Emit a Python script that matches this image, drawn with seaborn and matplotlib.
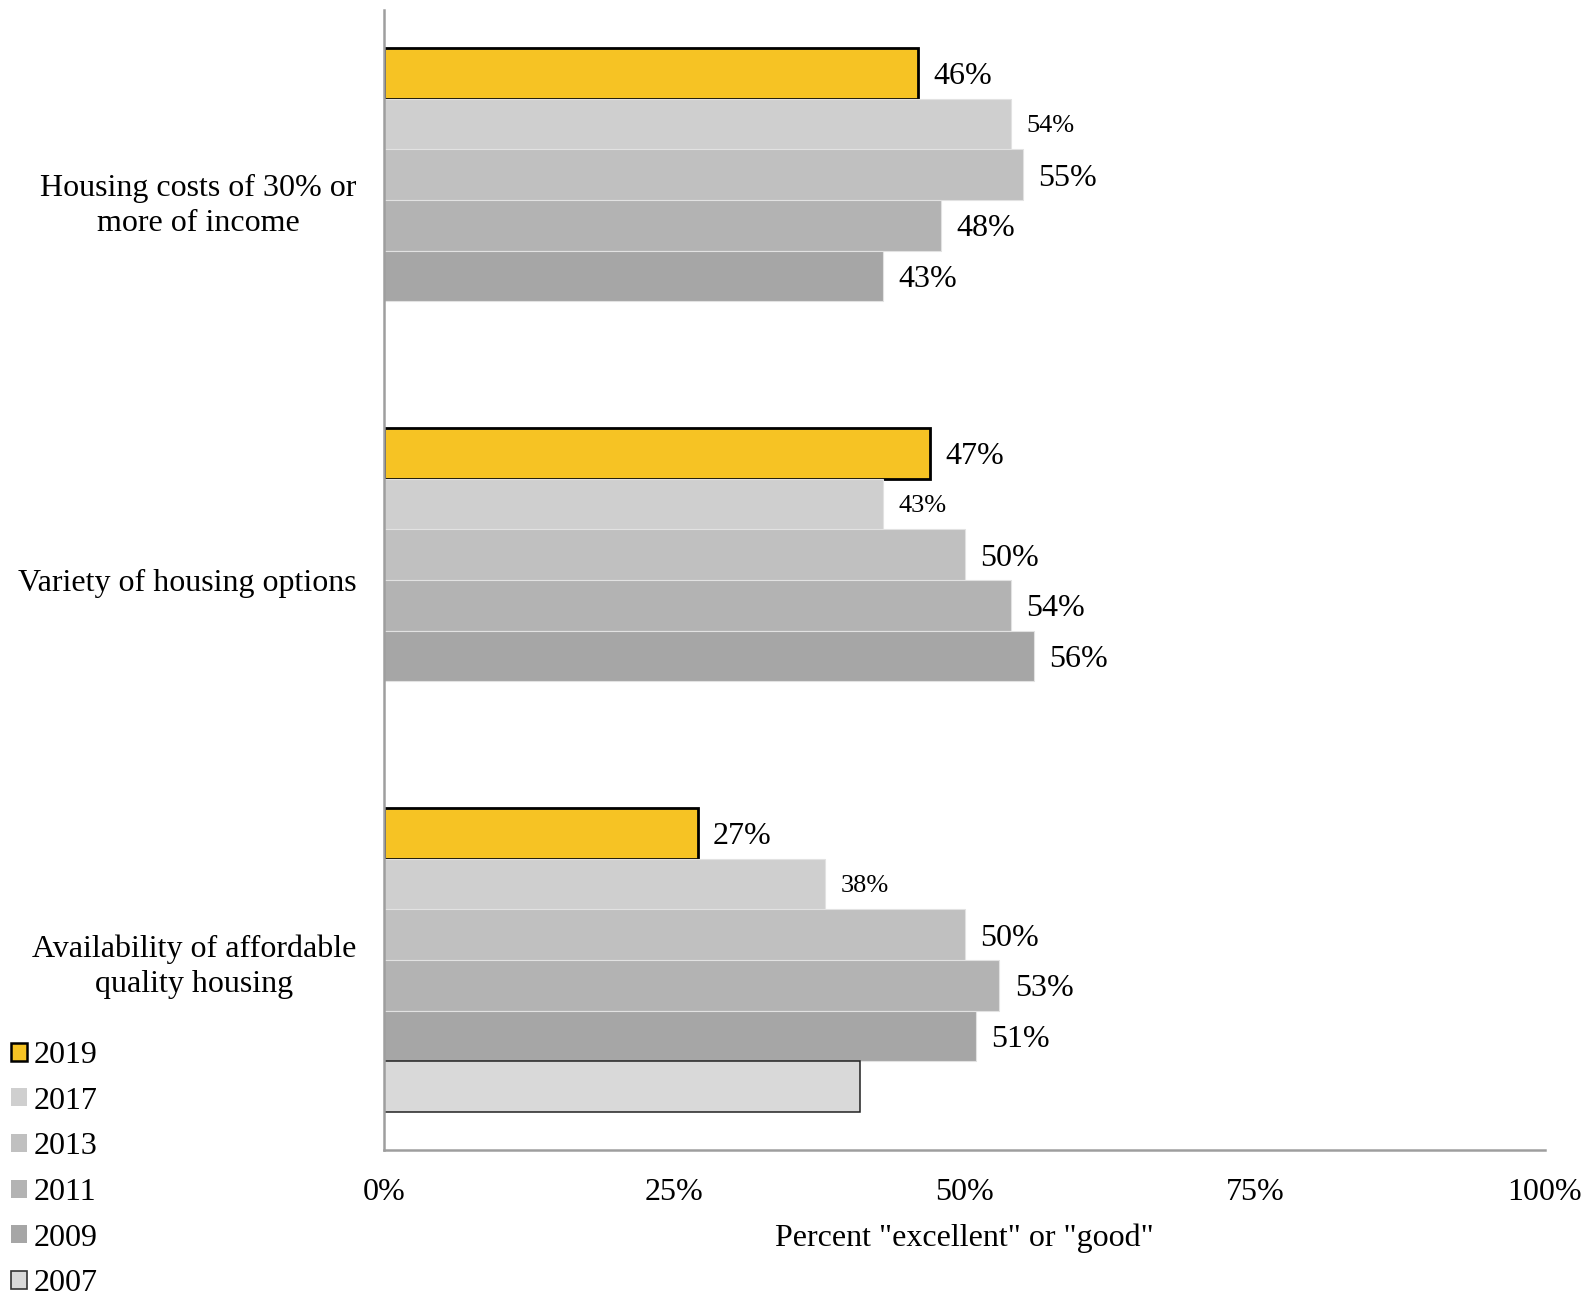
import pandas as pd
import matplotlib.pyplot as plt
import seaborn as sns
from matplotlib.patches import Patch

# data
categories = [
    "Housing costs of 30% or\nmore of income",
    "Variety of housing options",
    "Availability of affordable\nquality housing",
]
years = ["2019", "2017", "2013", "2011", "2009", "2007"]
v2019 = [46, 47, 27]
v2017 = [54, 43, 38]
v2013 = [55, 50, 50]
v2011 = [48, 54, 53]
v2009 = [43, 56, 51]
v2007 = [None, None, 41]

colors = {
    "2019": "#F6C324",
    "2017": "#CFCFCF",
    "2013": "#C0C0C0",
    "2011": "#B3B3B3",
    "2009": "#A6A6A6",
    "2007": "#D9D9D9",
}

rows = []
for year, vals in zip(years, [v2019, v2017, v2013, v2011, v2009, v2007]):
    for cat, v in zip(categories, vals):
        if v is not None:
            rows.append({"category": cat, "year": year, "value": v})
df = pd.DataFrame(rows)

sns.set_style("white")
plt.rcParams["font.family"] = ["Liberation Serif", "DejaVu Serif"]
plt.rcParams["text.color"] = "black"
plt.rcParams["axes.labelcolor"] = "black"

fig = plt.figure(figsize=(15.85, 12.96), dpi=100)
ax = fig.add_axes([0.2423, 0.1127, 0.7325, 0.8796])

sns.barplot(
    data=df,
    x="value",
    y="category",
    hue="year",
    hue_order=years,
    order=categories,
    palette=colors,
    orient="h",
    width=0.8,
    dodge=True,
    saturation=1,
    legend=False,
    ax=ax,
)

# edges and value labels
for year, cont in zip(years, ax.containers):
    for bar in cont.patches:
        if year == "2019":
            bar.set_edgecolor("black")
            bar.set_linewidth(2)
        elif year == "2007":
            bar.set_edgecolor("#222222")
            bar.set_linewidth(1.1)
        else:
            bar.set_edgecolor("#E2E2E2")
            bar.set_linewidth(0.8)
    if year == "2007":
        continue
    size = 19 if year == "2017" else 23
    texts = ax.bar_label(cont, labels=[f"{v:.0f}%" for v in cont.datavalues],
                         padding=11, fontsize=size, color="black")
    for t in texts:
        t.set_va("center_baseline")

ax.set_xlim(0, 100)
ax.set_xticks([0, 25, 50, 75, 100])
ax.set_xticklabels(["0%", "25%", "50%", "75%", "100%"])
ax.set_xlabel('Percent "excellent" or "good"', fontsize=23, labelpad=12)
ax.set_ylabel("")

for side in ["top", "right"]:
    ax.spines[side].set_visible(False)
for side in ["left", "bottom"]:
    ax.spines[side].set_color("#9E9E9E")
    ax.spines[side].set_linewidth(1.8)

ax.tick_params(axis="x", direction="out", length=8, width=1.8, color="#9E9E9E",
               labelsize=23, labelcolor="black", pad=12)
ax.tick_params(axis="y", length=0, labelsize=23, labelcolor="black", pad=20)
for lbl in ax.get_yticklabels():
    lbl.set_multialignment("center")
    lbl.set_linespacing(1.27)

handles = []
for year in years:
    if year == "2019":
        handles.append(Patch(facecolor=colors[year], edgecolor="black", linewidth=1.8))
    elif year == "2007":
        handles.append(Patch(facecolor=colors[year], edgecolor="#333333", linewidth=1.2))
    else:
        handles.append(Patch(facecolor=colors[year], edgecolor="none"))
fig.legend(
    handles, years,
    loc="center left",
    bbox_to_anchor=(0.007, 0.0975),
    frameon=False,
    fontsize=23,
    handlelength=0.5,
    handleheight=0.5,
    handletextpad=0.22,
    labelspacing=0.52,
    borderpad=0,
    borderaxespad=0,
)

fig.savefig("out.png", dpi=100)
